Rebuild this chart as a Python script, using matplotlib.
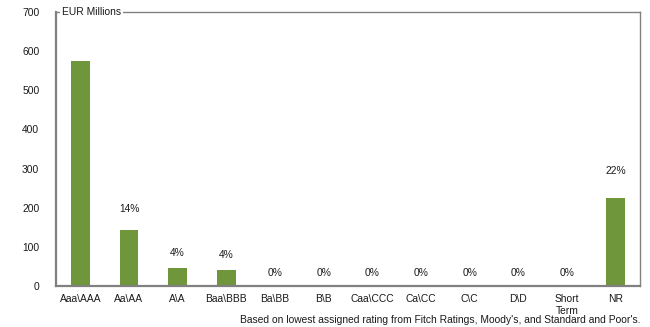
import matplotlib.pyplot as plt
import numpy as np

plt.rcParams['font.family'] = ['Liberation Sans', 'DejaVu Sans']

categories = ['Aaa\\AAA', 'Aa\\AA', 'A\\A', 'Baa\\BBB', 'Ba\\BB', 'B\\B', 'Caa\\CCC',
              'Ca\\CC', 'C\\C', 'D\\D', 'Short\nTerm', 'NR']
values = [575, 143, 45, 40, 0, 0, 0, 0, 0, 0, 0, 226]
pct_labels = ['', '14%', '4%', '4%', '0%', '0%', '0%', '0%', '0%', '0%', '0%', '22%']
yticks = [0, 100, 200, 300, 400, 500, 600, 700]

green = '#6F963B'
frame = '#808080'
txt = '#1a1a1a'
fs = 7.4

fig = plt.figure(figsize=(6.5, 3.27), dpi=100)
ax = fig.add_axes([56 / 650, 1 - 286 / 327, 584 / 650, 274 / 327])

x = np.arange(len(categories))
ax.bar(x, values, width=0.39, color=green, zorder=2)

# percentage labels float above each bar
for xi, v, lab in zip(x, values, pct_labels):
    if lab:
        ax.text(xi, 33 + 1.15 * v, lab, ha='center', va='center', fontsize=fs, color=txt)

ax.set_xlim(-0.5, len(categories) - 0.5)
ax.set_ylim(0, 700)
ax.set_yticks(yticks)
ax.set_xticks(x)
ax.set_xticklabels(categories, fontsize=fs, color=txt, linespacing=1.25)
ax.tick_params(axis='both', length=0, labelsize=fs, colors=txt)
ax.tick_params(axis='y', pad=12)
ax.tick_params(axis='x', pad=6)

for s in ax.spines.values():
    s.set_color(frame)
    s.set_linewidth(1.0)
ax.spines['left'].set_linewidth(1.6)
ax.spines['bottom'].set_linewidth(1.6)

ax.text(0.01, 1.0, 'EUR Millions', transform=ax.transAxes, fontsize=fs, color=txt,
        ha='left', va='center',
        bbox=dict(facecolor='white', edgecolor='none', pad=1.5), zorder=5)

fig.text(640 / 650, 1 - 320 / 327,
         "Based on lowest assigned rating from Fitch Ratings, Moody's, and Standard and Poor's.",
         ha='right', va='center', fontsize=fs, color=txt)

fig.savefig('out.png', dpi=100)
